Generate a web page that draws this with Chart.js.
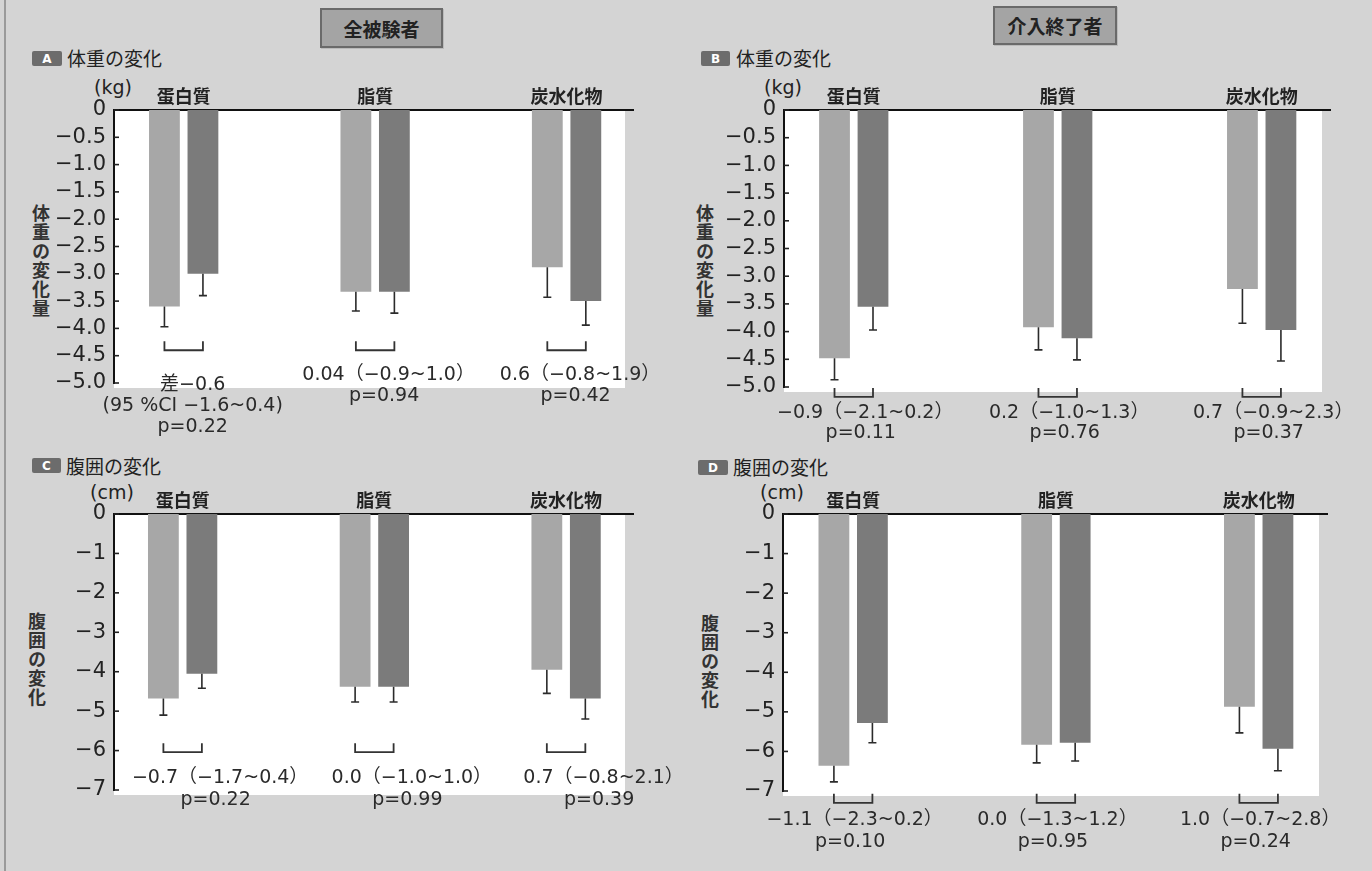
<!DOCTYPE html>
<html lang="ja">
<head>
<meta charset="utf-8">
<script src="https://cdn.jsdelivr.net/npm/chart.js@4/dist/chart.umd.min.js"></script>
<style>
  html, body { margin:0; padding:0; }
  body { width:1372px; height:871px; overflow:hidden; position:relative; background:#d4d4d4;
         font-family:"DejaVu Sans","Noto Sans CJK JP",sans-serif; color:#222; }
  canvas { position:absolute; left:0; top:0; }
  .edge { position:absolute; left:4px; top:0; width:2px; height:871px; background:#9a9a9a; }
  .hdr { position:absolute; box-sizing:border-box; background:#a4a4a4; border:2px solid #6a6a6a;
         font-family:"Noto Sans CJK JP",sans-serif; font-weight:bold; font-size:19px; color:#222;
         display:flex; align-items:center; justify-content:center; box-shadow:1px 1px 0 #bbb; }
  .badge { position:absolute; box-sizing:border-box; background:#6c6c6c; color:#fff; border-radius:2px;
           font-family:"DejaVu Sans",sans-serif; font-weight:bold; font-size:12px;
           display:flex; align-items:center; justify-content:center; }
  .ptitle { position:absolute; font-family:"Noto Sans CJK JP",sans-serif; font-size:19px; color:#222;
            line-height:20px; white-space:nowrap; }
  .unit { position:absolute; font-family:"DejaVu Sans",sans-serif; font-size:19px; color:#222;
          line-height:22px; white-space:nowrap; transform:translateX(-50%); }
  .vtitle { position:absolute; writing-mode:vertical-rl; text-orientation:upright;
            font-family:"Noto Sans CJK JP",sans-serif; font-weight:bold; font-size:18px; color:#333;
            line-height:20px; letter-spacing:1px; transform:translateX(-50%); }
</style>
</head>
<body>
<div class="edge"></div>

<div class="hdr" style="left:320px;top:8px;width:123px;height:40px;">全被験者</div>
<div class="hdr" style="left:993px;top:6px;width:124px;height:39px;">介入終了者</div>

<div class="badge" style="left:32px;top:51px;width:30px;height:15px;">A</div>
<div class="ptitle" style="left:67px;top:48px;">体重の変化</div>
<div class="badge" style="left:701px;top:51px;width:29px;height:15px;">B</div>
<div class="ptitle" style="left:736px;top:48px;">体重の変化</div>
<div class="badge" style="left:32px;top:458px;width:29px;height:15px;">C</div>
<div class="ptitle" style="left:66px;top:456px;">腹囲の変化</div>
<div class="badge" style="left:698px;top:460px;width:30px;height:15px;">D</div>
<div class="ptitle" style="left:733px;top:457px;">腹囲の変化</div>

<div class="unit" style="left:113px;top:76px;">(kg)</div>
<div class="unit" style="left:783px;top:76px;">(kg)</div>
<div class="unit" style="left:112px;top:481px;">(cm)</div>
<div class="unit" style="left:782px;top:481px;">(cm)</div>

<div class="vtitle" style="left:41px;top:204px;">体重の変化量</div>
<div class="vtitle" style="left:705px;top:204px;">体重の変化量</div>
<div class="vtitle" style="left:37px;top:612px;">腹囲の変化</div>
<div class="vtitle" style="left:710px;top:614px;">腹囲の変化</div>

<canvas id="cA" width="1372" height="871"></canvas>
<canvas id="cB" width="1372" height="871"></canvas>
<canvas id="cC" width="1372" height="871"></canvas>
<canvas id="cD" width="1372" height="871"></canvas>

<script>
// ---------- categories & ticks ----------
const categories = ['蛋白質', '脂質', '炭水化物'];
const kgTicks = [0, -0.5, -1.0, -1.5, -2.0, -2.5, -3.0, -3.5, -4.0, -4.5, -5.0];
const kgTickLabels = ['0', '−0.5', '−1.0', '−1.5', '−2.0', '−2.5', '−3.0', '−3.5', '−4.0', '−4.5', '−5.0'];
const cmTicks = [0, -1, -2, -3, -4, -5, -6, -7];
const cmTickLabels = ['0', '−1', '−2', '−3', '−4', '−5', '−6', '−7'];

// ---------- A: 全被験者 体重の変化 (kg) ----------
const weightAllLight    = [-3.60, -3.33, -2.88];
const weightAllDark     = [-3.00, -3.33, -3.50];
const weightAllLightErr = [-3.97, -3.68, -3.43];
const weightAllDarkErr  = [-3.40, -3.72, -3.94];
const weightAllTexts = [
  ['差−0.6', '(95 %CI −1.6~0.4)', 'p=0.22'],
  ['0.04（−0.9~1.0）', 'p=0.94'],
  ['0.6（−0.8~1.9）', 'p=0.42']
];

// ---------- B: 介入終了者 体重の変化 (kg) ----------
const weightCompLight    = [-4.48, -3.92, -3.23];
const weightCompDark     = [-3.55, -4.12, -3.97];
const weightCompLightErr = [-4.87, -4.33, -3.85];
const weightCompDarkErr  = [-3.97, -4.51, -4.53];
const weightCompTexts = [
  ['−0.9（−2.1~0.2）', 'p=0.11'],
  ['0.2（−1.0~1.3）', 'p=0.76'],
  ['0.7（−0.9~2.3）', 'p=0.37']
];

// ---------- C: 全被験者 腹囲の変化 (cm) ----------
const waistAllLight    = [-4.68, -4.38, -3.95];
const waistAllDark     = [-4.05, -4.38, -4.68];
const waistAllLightErr = [-5.10, -4.77, -4.55];
const waistAllDarkErr  = [-4.42, -4.77, -5.20];
const waistAllTexts = [
  ['−0.7（−1.7~0.4）', 'p=0.22'],
  ['0.0（−1.0~1.0）', 'p=0.99'],
  ['0.7（−0.8~2.1）', 'p=0.39']
];

// ---------- D: 介入終了者 腹囲の変化 (cm) ----------
const waistCompLight    = [-6.36, -5.83, -4.87];
const waistCompDark     = [-5.28, -5.78, -5.93];
const waistCompLightErr = [-6.77, -6.29, -5.53];
const waistCompDarkErr  = [-5.78, -6.24, -6.49];
const waistCompTexts = [
  ['−1.1（−2.3~0.2）', 'p=0.10'],
  ['0.0（−1.3~1.2）', 'p=0.95'],
  ['1.0（−0.7~2.8）', 'p=0.24']
];

// ---------- layout (positions / styles only) ----------
const LIGHT = '#a7a7a7';
const DARK = '#7b7b7b';
const W = 1372, H = 871, Y_AXIS_W = 80, X_AXIS_H = 40;

const panels = [
  { canvas:'cA', light:weightAllLight, dark:weightAllDark, lightErr:weightAllLightErr, darkErr:weightAllDarkErr,
    texts:weightAllTexts, ticks:kgTicks, tickLabels:kgTickLabels,
    area:{left:114, right:633, top:110, bottom:383}, xMin:-0.364, xMax:2.347, unit:191.4,
    bracket:-4.40, textDx:9, textDy:[35,25,25], lineH:21 },
  { canvas:'cB', light:weightCompLight, dark:weightCompDark, lightErr:weightCompLightErr, darkErr:weightCompDarkErr,
    texts:weightCompTexts, ticks:kgTicks, tickLabels:kgTickLabels,
    area:{left:784, right:1330, top:110, bottom:387}, xMin:-0.342, xMax:2.335, unit:204,
    bracket:-5.18, textDx:7, textDy:[16,16,16], lineH:20 },
  { canvas:'cC', light:waistAllLight, dark:waistAllDark, lightErr:waistAllLightErr, darkErr:waistAllDarkErr,
    texts:waistAllTexts, ticks:cmTicks, tickLabels:cmTickLabels,
    area:{left:114, right:633, top:514, bottom:790}, xMin:-0.358, xMax:2.349, unit:191.75,
    bracket:-6.04, textDx:33, textDy:[26,26,26], lineH:22 },
  { canvas:'cD', light:waistCompLight, dark:waistCompDark, lightErr:waistCompLightErr, darkErr:waistCompDarkErr,
    texts:waistCompTexts, ticks:cmTicks, tickLabels:cmTickLabels,
    area:{left:783, right:1327, top:514, bottom:791}, xMin:-0.346, xMax:2.337, unit:202.75,
    bracket:-7.30, textDx:-3, textDy:[17,17,17], lineH:22 }
];

const panelPlugin = {
  id: 'panelDeco',
  beforeDraw(chart, args, o) {
    const { ctx, chartArea: a } = chart;
    ctx.save();
    ctx.fillStyle = '#ffffff';
    ctx.fillRect(a.left, a.top, a.right - a.left - 8, a.bottom - a.top + 5);
    ctx.restore();
  },
  afterDatasetsDraw(chart, args, o) {
    const { ctx, chartArea: a } = chart;
    const y = chart.scales.y;
    const metas = [chart.getDatasetMeta(0), chart.getDatasetMeta(1)];
    const errs = [o.lightErr, o.darkErr];
    ctx.save();
    ctx.strokeStyle = '#2b2b2b';
    ctx.lineWidth = 1.6;
    // error bars
    metas.forEach((m, d) => {
      m.data.forEach((bar, i) => {
        const ye = y.getPixelForValue(errs[d][i]);
        ctx.beginPath();
        ctx.moveTo(bar.x, bar.y);
        ctx.lineTo(bar.x, ye);
        ctx.moveTo(bar.x - 4, ye);
        ctx.lineTo(bar.x + 4, ye);
        ctx.stroke();
      });
    });
    // inward y ticks
    ctx.lineWidth = 1.6;
    ctx.strokeStyle = '#222';
    y.ticks.forEach((t, i) => {
      const py = y.getPixelForTick(i);
      ctx.beginPath();
      ctx.moveTo(a.left, py);
      ctx.lineTo(a.left + 5, py);
      ctx.stroke();
    });
    // brackets and difference texts
    const by = y.getPixelForValue(o.bracket);
    ctx.lineWidth = 1.8;
    ctx.strokeStyle = '#333';
    ctx.fillStyle = '#2a2a2a';
    ctx.font = '19px "DejaVu Sans", "Noto Sans CJK JP", sans-serif';
    ctx.textAlign = 'center';
    ctx.textBaseline = 'middle';
    metas[0].data.forEach((bar, i) => {
      const x0 = bar.x, x1 = metas[1].data[i].x;
      ctx.beginPath();
      ctx.moveTo(x0, by - 9);
      ctx.lineTo(x0, by);
      ctx.lineTo(x1, by);
      ctx.lineTo(x1, by - 9);
      ctx.stroke();
      const cx = (x0 + x1) / 2 + o.textDx;
      o.texts[i].forEach((line, k) => {
        const shift = line.endsWith('）') ? 4.5 : 0;
        ctx.fillText(line, cx + shift, by + o.textDy[i] + k * o.lineH);
      });
    });
    ctx.restore();
  }
};

panels.forEach(p => {
  const catPct = 77 / p.unit;
  new Chart(document.getElementById(p.canvas), {
    type: 'bar',
    data: {
      datasets: [
        { data: p.light.map((v, i) => ({ x: i, y: v })), backgroundColor: LIGHT, borderWidth: 0,
          categoryPercentage: catPct, barPercentage: 0.8 },
        { data: p.dark.map((v, i) => ({ x: i, y: v })), backgroundColor: DARK, borderWidth: 0,
          categoryPercentage: catPct, barPercentage: 0.8 }
      ]
    },
    options: {
      responsive: false,
      animation: false,
      devicePixelRatio: 1,
      layout: { padding: { left: p.area.left - Y_AXIS_W, top: p.area.top - X_AXIS_H,
                           right: W - p.area.right, bottom: H - p.area.bottom } },
      plugins: {
        legend: { display: false },
        tooltip: { enabled: false },
        panelDeco: { lightErr: p.lightErr, darkErr: p.darkErr, texts: p.texts, bracket: p.bracket,
                     textDx: p.textDx, textDy: p.textDy, lineH: p.lineH }
      },
      scales: {
        x: {
          type: 'linear', position: 'top', min: p.xMin, max: p.xMax, offset: false,
          afterFit(s) { s.height = X_AXIS_H; },
          afterBuildTicks(s) { s.ticks = categories.map((c, i) => ({ value: i })); },
          ticks: { callback: v => categories[v], padding: 3, color: '#222', maxRotation: 0, autoSkip: false,
                   font: { family: '"Noto Sans CJK JP", sans-serif', size: 18, weight: 'bold' } },
          grid: { display: false, drawTicks: false },
          border: { display: true, color: '#111', width: 2 }
        },
        y: {
          type: 'linear', position: 'left', min: p.ticks[p.ticks.length - 1], max: 0,
          afterFit(s) { s.width = Y_AXIS_W; },
          afterBuildTicks(s) { s.ticks = p.ticks.map(v => ({ value: v })); },
          ticks: { callback: (v, i) => p.tickLabels[i], padding: 8, color: '#222', autoSkip: false,
                   font: { family: '"DejaVu Sans", sans-serif', size: 21 } },
          grid: { display: false, drawTicks: false },
          border: { display: true, color: '#111', width: 2 }
        }
      }
    },
    plugins: [panelPlugin]
  });
});
</script>
</body>
</html>
